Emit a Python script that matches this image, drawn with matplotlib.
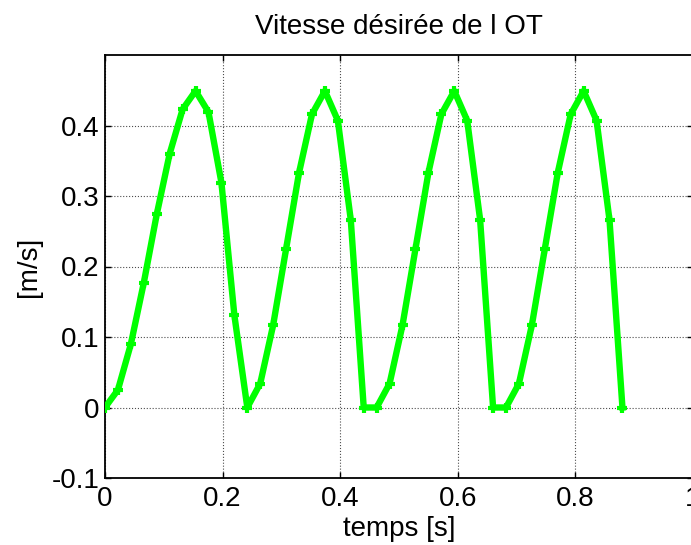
import matplotlib
matplotlib.use("Agg")
import matplotlib.pyplot as plt

plt.rcParams['font.family'] = ['Liberation Sans', 'DejaVu Sans']

# sample times [s] and desired speed [m/s]
temps = [0.000, 0.022, 0.044, 0.066, 0.088, 0.110, 0.132, 0.154, 0.176, 0.198,
         0.220, 0.242, 0.264, 0.286, 0.308, 0.330, 0.352, 0.374, 0.396, 0.418,
         0.440, 0.462, 0.484, 0.506, 0.528, 0.550, 0.572, 0.594, 0.616, 0.638,
         0.660, 0.682, 0.704, 0.726, 0.748, 0.770, 0.792, 0.814, 0.836, 0.858,
         0.880]
vitesse = [0.000, 0.025, 0.090, 0.177, 0.274, 0.360, 0.423, 0.449, 0.419, 0.319,
           0.131, 0.000, 0.034, 0.117, 0.225, 0.333, 0.416, 0.449, 0.407, 0.266,
           0.000, 0.000, 0.034, 0.117, 0.225, 0.333, 0.416, 0.449, 0.407, 0.266,
           0.000, 0.000, 0.034, 0.117, 0.225, 0.333, 0.416, 0.449, 0.407, 0.266,
           0.000]

xticks = [0, 0.2, 0.4, 0.6, 0.8, 1]
xticklabels = ['0', '0.2', '0.4', '0.6', '0.8', '1']
yticks = [-0.1, 0, 0.1, 0.2, 0.3, 0.4]
yticklabels = ['-0.1', '0', '0.1', '0.2', '0.3', '0.4']

fig = plt.figure(figsize=(6.91, 5.45), dpi=100)
ax = fig.add_axes([105 / 691, 67 / 545, 588 / 691, 423 / 545])

ax.plot(temps, vitesse, color=(0, 1, 0), linewidth=4.6, marker='+',
        markersize=7, markeredgewidth=3, zorder=3)

ax.set_xlim(0, 1)
ax.set_ylim(-0.1, 0.5)
ax.set_xticks(xticks)
ax.set_xticklabels(xticklabels)
ax.set_yticks(yticks)
ax.set_yticklabels(yticklabels)

ax.grid(True, linestyle=':', color='0.3', linewidth=0.8)
ax.tick_params(direction='in', top=True, right=True, length=4, width=1,
               labelsize=20)
ax.tick_params(axis='x', pad=6)
ax.tick_params(axis='y', pad=4)
for s in ax.spines.values():
    s.set_linewidth(1.3)

ax.set_title('Vitesse désirée de l OT', fontsize=20, pad=15)
ax.set_xlabel('temps [s]', fontsize=20, labelpad=3)
ax.set_ylabel('[m/s]', fontsize=20, labelpad=7)

fig.savefig('out.png', dpi=100)
